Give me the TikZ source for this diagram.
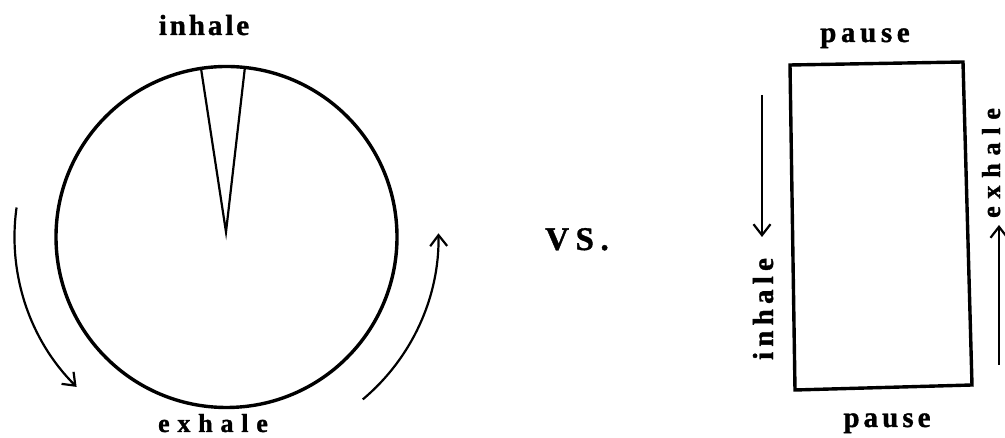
\documentclass[tikz,border=0pt]{standalone}
\usepackage{fontspec}
\setmainfont{Liberation Serif}
\usetikzlibrary{arrows.meta}
\newcommand{\lblfont}[2]{\fontsize{#1}{#1}\selectfont\bfseries\addfontfeature{LetterSpace=#2,FakeBold=1.2}}

\begin{document}
\begin{tikzpicture}[x=1pt,y=1pt,line width=3.4pt,
    lbl/.style={inner sep=0pt,anchor=base},
    arr/.style={line width=2.2pt,-{Straight Barb[length=11pt,width=17pt]}}]
  \useasboundingbox (0,0) rectangle (1005,438);
  % the round breath
  \coordinate (c) at (226.5,201);
  \draw (c) circle (170.5);
  \path (c) ++(98.6:170.5) coordinate (wl);
  \path (c) ++(83.8:170.5) coordinate (wr);
  \coordinate (tip) at (226,206);
  \draw[line width=2.2pt] (wl)--(tip)--(wr);
  \draw[arr] (c) ++(172:212) arc (172:225:212);
  \draw[arr] (c) ++(-50:212) arc (-50:1:212);
  \node[lbl,font=\lblfont{29}{10}] (inTop) at (204,403) {inhale};
  \node[lbl,font=\lblfont{26}{30}] (exBot) at (213,6) {exhale};
  % vs
  \node[lbl,font=\lblfont{33}{20}] (vs) at (577,188) {VS.};
  % the square breath
  \coordinate (tl) at (790,373);
  \coordinate (tr) at (963,376);
  \coordinate (br) at (972,53);
  \coordinate (bl) at (795,48);
  \draw (tl)--(tr)--(br)--(bl)--cycle;
  \node[lbl,font=\lblfont{29}{16}] (pTop) at (865,396) {pause};
  \node[lbl,font=\lblfont{29}{14}] (pBot) at (887,11) {pause};
  \node[lbl,font=\lblfont{29}{18},rotate=90] (inL) at (773,129) {inhale};
  \node[lbl,font=\lblfont{26}{30},rotate=90] (exR) at (1000,275) {exhale};
  \coordinate (a1) at (762,343);
  \coordinate (a2) at (762,201);
  \draw[arr] (a1)--(a2);
  \coordinate (b1) at (999,73);
  \coordinate (b2) at (999,213);
  \draw[arr] (b1)--(b2);
\end{tikzpicture}
\end{document}
